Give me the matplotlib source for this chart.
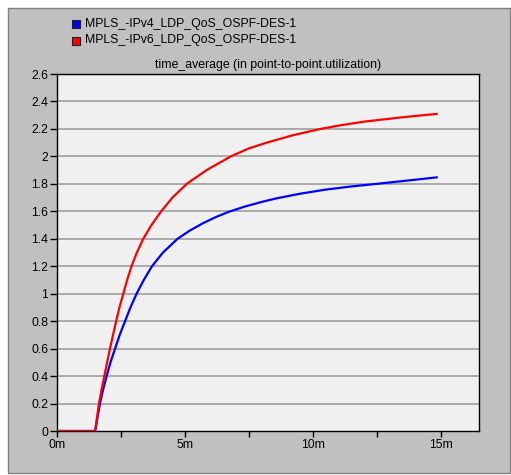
import matplotlib
matplotlib.use("Agg")
import matplotlib.pyplot as plt
from matplotlib.patches import Rectangle

# values (time in minutes)
t_ipv4 = [0, 1.5, 1.69, 1.81, 1.95, 2.1, 2.28, 2.46, 2.67, 2.88, 3.12, 3.4,
          3.72, 4.15, 4.72, 5.2, 5.7, 6.2, 6.7, 7.3, 8.0, 8.6, 9.5, 10.5,
          11.5, 12.5, 13.8, 14.88]
ipv4 = [0, 0, 0.2, 0.3, 0.4, 0.5, 0.6, 0.7, 0.8, 0.9, 1.0, 1.1,
        1.2, 1.3, 1.4, 1.46, 1.512, 1.557, 1.595, 1.632, 1.668, 1.695, 1.728,
        1.758, 1.781, 1.8, 1.826, 1.848]
t_ipv6 = [0, 1.5, 1.65, 1.75, 1.86, 1.97, 2.08, 2.2, 2.32, 2.45, 2.6, 2.75,
          2.92, 3.13, 3.38, 3.7, 4.08, 4.52, 5.08, 5.85, 6.8, 7.5, 8.2, 9.2,
          10.3, 11.1, 12.0, 13.6, 14.88]
ipv6 = [0, 0, 0.2, 0.3, 0.4, 0.5, 0.6, 0.7, 0.8, 0.9, 1.0, 1.1,
        1.2, 1.3, 1.4, 1.5, 1.6, 1.7, 1.8, 1.9, 2.0, 2.058, 2.1, 2.153,
        2.2, 2.227, 2.253, 2.287, 2.31]
series_names = ["MPLS_-IPv4_LDP_QoS_OSPF-DES-1", "MPLS_-IPv6_LDP_QoS_OSPF-DES-1"]
series_colors = ["#0000ff", "#ff0000"]
x_ticks = [0, 5, 10, 15]
x_labels = ["0m", "5m", "10m", "15m"]
y_ticks = [0, 0.2, 0.4, 0.6, 0.8, 1, 1.2, 1.4, 1.6, 1.8, 2, 2.2, 2.4, 2.6]
y_labels = ["0", "0.2", "0.4", "0.6", "0.8", "1", "1.2", "1.4", "1.6",
            "1.8", "2", "2.2", "2.4", "2.6"]

W, H = 511, 475
FONT = "Liberation Sans"
FS = 8.8

fig = plt.figure(figsize=(W / 100, H / 100), dpi=100, facecolor="white")

# grey panel behind everything
fig.patches.append(Rectangle((8 / W, 2 / H), 502 / W, 465 / H,
                             transform=fig.transFigure, facecolor="#c0c0c0",
                             edgecolor="#808080", lw=1, zorder=-5))

ax = fig.add_axes([56.7 / W, (H - 431) / H, (478.5 - 56.7) / W, (431 - 74) / H])
ax.set_zorder(2)
ax.set_facecolor("#f0f0f0")

for y in y_ticks[1:-1]:
    ax.axhline(y, color="#a4a4a4", lw=1.3, zorder=1)

for tt, vals, col in zip([t_ipv4, t_ipv6], [ipv4, ipv6], series_colors):
    ax.plot(tt, vals, color=col, lw=1.6, zorder=3, solid_capstyle="butt",
            solid_joinstyle="round")

ax.set_xlim(0, 16.47)
ax.set_ylim(0, 2.6)
ax.set_xticks(x_ticks)
ax.set_xticklabels(x_labels, fontfamily=FONT, fontsize=FS)
ax.set_xticks([2.5, 7.5, 12.5], minor=True)
ax.set_yticks(y_ticks)
ax.set_yticklabels(y_labels, fontfamily=FONT, fontsize=FS)
ax.tick_params(axis="y", length=5, width=1, pad=1, color="black")
ax.tick_params(axis="x", which="both", length=4, width=1, pad=2, color="black")
for s in ax.spines.values():
    s.set_color("black")
    s.set_linewidth(1)

ax.set_title("time_average (in point-to-point.utilization)", fontfamily=FONT,
             fontsize=FS, pad=4)

# legend squares, drawn in figure pixels
for i, (name, col) in enumerate(zip(series_names, series_colors)):
    yc = H - (24 + 16.5 * i)
    fig.patches.append(Rectangle((72 / W, (yc - 4) / H), 8 / W, 8 / H,
                                 transform=fig.transFigure, facecolor=col,
                                 edgecolor="#202020", lw=0.8))
    fig.text(85 / W, yc / H, name, fontfamily=FONT, fontsize=FS,
             va="center", ha="left")

fig.savefig("out.png", dpi=100, facecolor="white")
